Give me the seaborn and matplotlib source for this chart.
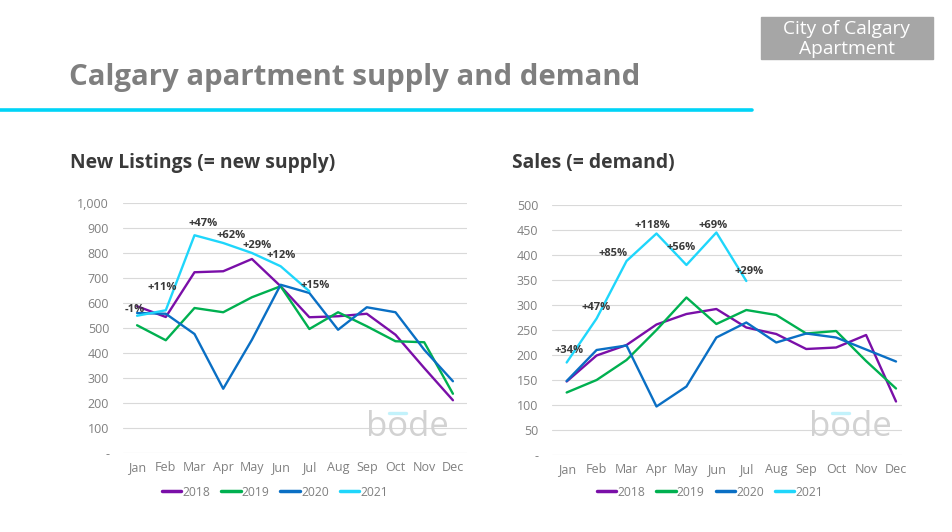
import numpy as np
import pandas as pd
import matplotlib
matplotlib.use("Agg")
import matplotlib.pyplot as plt
import seaborn as sns
from matplotlib.lines import Line2D

# ---------------- data ----------------
months = ["Jan", "Feb", "Mar", "Apr", "May", "Jun", "Jul", "Aug", "Sep", "Oct", "Nov", "Dec"]
years = ["2018", "2019", "2020", "2021"]

listings_2018 = [587, 544, 723, 727, 776, 667, 543, 547, 557, 473, 340, 211]
listings_2019 = [511, 451, 580, 563, 623, 667, 496, 563, 507, 447, 443, 237]
listings_2020 = [560, 557, 476, 257, 453, 673, 640, 493, 583, 563, 413, 287]
listings_2021 = [549, 571, 871, 840, 800, 747, 647]

sales_2018 = [147, 199, 220, 261, 282, 292, 255, 242, 212, 215, 240, 107]
sales_2019 = [125, 150, 190, 250, 315, 262, 290, 280, 243, 248, 188, 133]
sales_2020 = [148, 210, 219, 97, 137, 235, 265, 225, 243, 235, 211, 187]
sales_2021 = [185, 273, 388, 443, 380, 445, 348]

listings_labels = ["-1%", "+11%", "+47%", "+62%", "+29%", "+12%", "+15%"]
sales_labels = ["+34%", "+47%", "+85%", "+118%", "+56%", "+69%", "+29%"]

listings_yticks = [0, 100, 200, 300, 400, 500, 600, 700, 800, 900, 1000]
listings_yticklabels = ["-", "100", "200", "300", "400", "500", "600", "700", "800", "900", "1,000"]
sales_yticks = [0, 50, 100, 150, 200, 250, 300, 350, 400, 450, 500]
sales_yticklabels = ["-", "50", "100", "150", "200", "250", "300", "350", "400", "450", "500"]

# ---------------- styles ----------------
palette = {"2018": "#7a0fa8", "2019": "#00b050", "2020": "#0a6fc4", "2021": "#1fd6fb"}
FONT = ["Open Sans", "DejaVu Sans"]
GRAY = "#808080"
DARK = "#3a3a3a"

# label offsets in pixels (dx, dy) relative to 2021 points
listings_offsets = [(-2, 6), (-4, 23), (9, 12), (8, 7), (5, 7), (1, 11), (6, 6)]
sales_offsets = [(2, 12), (0, 11), (-13, 8), (-4, 8.5), (-5, 17), (-3, 7), (3, 9)]


def long_frame(series_list):
    rows = []
    for yr, vals in zip(years, series_list):
        for i, v in enumerate(vals):
            rows.append({"x": i, "month": months[i], "year": yr, "value": v})
    return pd.DataFrame(rows)


df_list = long_frame([listings_2018, listings_2019, listings_2020, listings_2021])
df_sales = long_frame([sales_2018, sales_2019, sales_2020, sales_2021])

sns.set_theme(style="white")
plt.rcParams["font.family"] = FONT

W, H = 953, 532
fig = plt.figure(figsize=(W / 100, H / 100), dpi=100)
renderer = fig.canvas.get_renderer()


def fx(px):
    return px / W


def fy(py):
    return 1 - py / H


# Header
fig.text(fx(69), fy(77), "Calgary apartment supply and demand", fontsize=21.2,
         fontweight="bold", color="#7f7f7f", va="center", ha="left", family=FONT)
fig.add_artist(Line2D([0, fx(752)], [fy(110), fy(110)], color="#00d4f7", lw=2.6,
                      transform=fig.transFigure))
box = plt.Rectangle((fx(761), fy(59)), fx(933) - fx(761), fy(17) - fy(59),
                    transform=fig.transFigure, color="#a6a6a6", zorder=1)
fig.add_artist(box)
fig.text(fx(847), fy(39), "City of Calgary\nApartment", fontsize=13.8, color="white",
         ha="center", va="center", linespacing=1.2, family=FONT, zorder=2)


def draw_panel(ax, df, y21, labels, offsets, yticks, yticklabels, ymax, title, title_x,
               bode_x, legend_cx):
    sns.lineplot(data=df, x="x", y="value", hue="year", palette=palette, ax=ax,
                 linewidth=1.7, legend=False, sort=False, estimator=None)
    ax.set_ylim(0, ymax)
    ax.set_xlim(-0.49, 11.49)
    ax.set_yticks(yticks)
    ax.set_yticklabels(yticklabels)
    ax.set_xticks(range(len(months)))
    ax.set_xticklabels(months)
    ax.set_xlabel("")
    ax.set_ylabel("")
    for s in ax.spines.values():
        s.set_visible(False)
    ax.grid(axis="y", color="#d9d9d9", lw=0.8)
    ax.set_axisbelow(True)
    ax.tick_params(axis="both", length=0, labelsize=9, colors=GRAY, pad=6)
    ax.tick_params(axis="y", pad=10)
    for lab in ax.get_xticklabels() + ax.get_yticklabels():
        lab.set_family(FONT)
    # annotations for 2021
    for i, (lab, (dx, dy)) in enumerate(zip(labels, offsets)):
        ax.annotate(lab, xy=(i, y21[i]), xytext=(dx * 0.72, dy * 0.72),
                    textcoords="offset points", ha="center", va="center",
                    fontsize=8, fontweight="bold", color=DARK, family=FONT, zorder=5)
    # subtitle
    fig.text(fx(title_x), fy(163), title, fontsize=13.9, fontweight="bold", color=DARK,
             ha="left", va="center", family=FONT)
    # watermark
    fs = 25
    fig.text(fx(bode_x), fy(436), "bode", fontsize=fs, color="#d2d2d2", ha="left",
             va="baseline", family=FONT, zorder=0)
    tb = fig.text(0, 0, "b", fontsize=fs, family=FONT)
    to = fig.text(0, 0, "bo", fontsize=fs, family=FONT)
    wb = tb.get_window_extent(renderer).width
    wbo = to.get_window_extent(renderer).width
    tb.remove()
    to.remove()
    fig.add_artist(Line2D([fx(bode_x + wb + 2), fx(bode_x + wbo - 2)], [fy(413), fy(413)],
                          color="#c2f2fb", lw=2.4, transform=fig.transFigure))
    # legend
    handles = [Line2D([0], [0], color=palette[y], lw=2.5) for y in years]
    fig.legend(handles, years, loc="center", bbox_to_anchor=(fx(legend_cx), fy(492)),
               ncol=4, frameon=False, handlelength=1.6, handletextpad=0.1,
               columnspacing=0.9, prop={"size": 8.7, "family": FONT},
               labelcolor=GRAY)


ax1 = fig.add_axes([fx(123), fy(453), fx(467) - fx(123), fy(203) - fy(453)])
ax2 = fig.add_axes([fx(552), fy(455), fx(902) - fx(552), fy(205) - fy(455)])

draw_panel(ax1, df_list, listings_2021, listings_labels, listings_offsets,
           listings_yticks, listings_yticklabels, 1000, "New Listings (= new supply)", 70,
           366, 275)
draw_panel(ax2, df_sales, sales_2021, sales_labels, sales_offsets,
           sales_yticks, sales_yticklabels, 500, "Sales (= demand)", 512, 809, 710)
ax2.set_xlim(-0.49, 11.2)

fig.savefig("out.png", dpi=100)
